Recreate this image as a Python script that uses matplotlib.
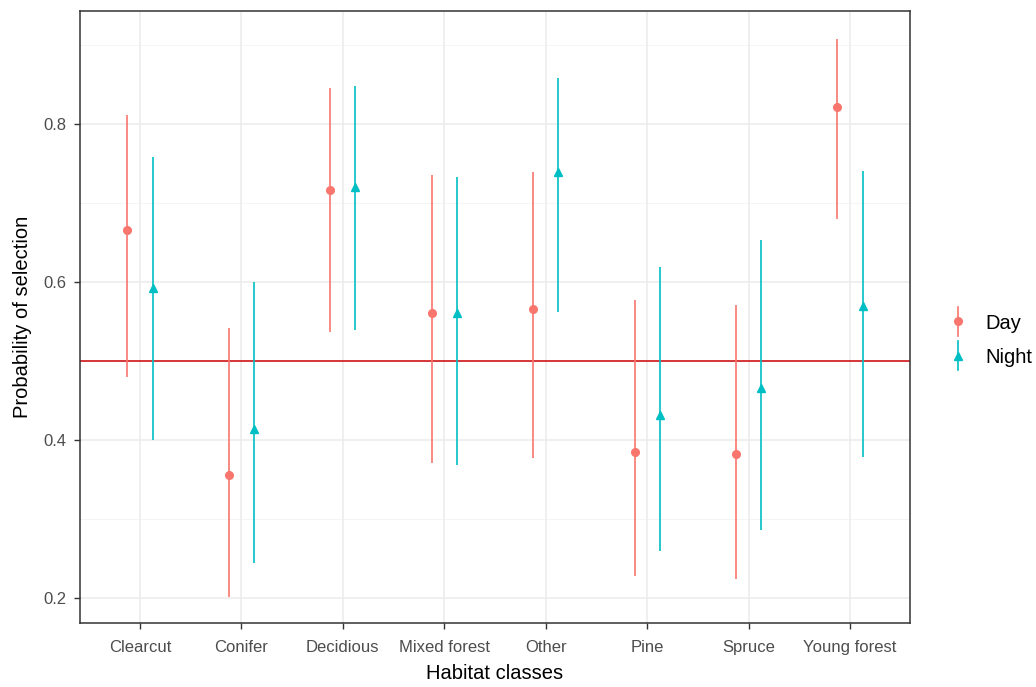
import matplotlib
matplotlib.use("Agg")
import matplotlib.pyplot as plt
from matplotlib.lines import Line2D
from matplotlib.legend_handler import HandlerBase
import numpy as np

plt.rcParams['font.family'] = ['Liberation Sans', 'DejaVu Sans']

categories = ["Clearcut", "Conifer", "Decidious", "Mixed forest", "Other", "Pine", "Spruce", "Young forest"]
day_est = [0.666, 0.356, 0.716, 0.560, 0.566, 0.385, 0.382, 0.822]
day_low = [0.480, 0.201, 0.537, 0.371, 0.377, 0.227, 0.224, 0.680]
day_high = [0.811, 0.542, 0.846, 0.735, 0.739, 0.577, 0.571, 0.908]
night_est = [0.592, 0.414, 0.720, 0.560, 0.739, 0.432, 0.466, 0.570]
night_low = [0.400, 0.244, 0.539, 0.368, 0.562, 0.259, 0.286, 0.378]
night_high = [0.758, 0.600, 0.848, 0.733, 0.858, 0.619, 0.653, 0.741]
y_ticks = [0.2, 0.4, 0.6, 0.8]
y_minor = [0.3, 0.5, 0.7, 0.9]

c_day = "#F8766D"
c_night = "#00BFC4"


class PointRangeHandler(HandlerBase):
    def create_artists(self, legend, orig_handle, xdescent, ydescent, width, height, fontsize, trans):
        cx = width / 2 - xdescent
        cy = height / 2 - ydescent
        h = height * 1.0
        line = Line2D([cx, cx], [cy - h, cy + h], color=orig_handle.get_color(), lw=1.2, transform=trans)
        pt = Line2D([cx], [cy], marker=orig_handle.get_marker(), color=orig_handle.get_color(),
                    ms=orig_handle.get_markersize(), lw=0, transform=trans)
        return [line, pt]


fig = plt.figure(figsize=(10.36, 6.87), dpi=100)
ax = fig.add_axes([0.0772, 0.0932, 0.8012, 0.8908])

x = np.arange(1, len(categories) + 1)
off = 0.125

for v in y_ticks:
    ax.axhline(v, color="#EBEBEB", lw=1.1, zorder=0)
for v in y_minor:
    ax.axhline(v, color="#F2F2F2", lw=0.6, zorder=0)
for xi in x:
    ax.axvline(xi, color="#EBEBEB", lw=1.1, zorder=0)

ax.axhline(0.5, color="#CC0000", lw=1.1, zorder=1)

ax.vlines(x - off, day_low, day_high, color=c_day, lw=1.2, zorder=2)
ax.plot(x - off, day_est, 'o', color=c_day, ms=5.5, zorder=3)
ax.vlines(x + off, night_low, night_high, color=c_night, lw=1.2, zorder=2)
ax.plot(x + off, night_est, '^', color=c_night, ms=6, zorder=3)

ax.set_xlim(0.41, 8.59)
ax.set_ylim(0.168, 0.943)
ax.set_xticks(x)
ax.set_xticklabels(categories)
ax.set_yticks(y_ticks)
ax.set_yticklabels([f"{v:.1f}" for v in y_ticks])
ax.tick_params(axis='both', colors="#333333", labelsize=12, length=4, width=1)
ax.tick_params(axis='x', pad=8)
ax.tick_params(axis='y', pad=6)
ax.tick_params(axis='both', labelcolor="#4D4D4D")
for s in ax.spines.values():
    s.set_color("#333333")
    s.set_linewidth(1.1)

ax.set_xlabel("Habitat classes", fontsize=14.5, color="black", labelpad=7)
ax.set_ylabel("Probability of selection", fontsize=14.5, color="black", labelpad=8)

handles = [
    Line2D([0], [0], color=c_day, marker='o', lw=1.2, ms=5.5, label="Day"),
    Line2D([0], [0], color=c_night, marker='^', lw=1.2, ms=6, label="Night"),
]
fig.legend(handles=handles, loc='center left', bbox_to_anchor=(0.903, 0.505),
           frameon=False, fontsize=14.5, handlelength=0.8, handletextpad=1.0,
           labelspacing=0.75, borderpad=0.2, handler_map={Line2D: PointRangeHandler()})

fig.savefig("out.png", dpi=100)
